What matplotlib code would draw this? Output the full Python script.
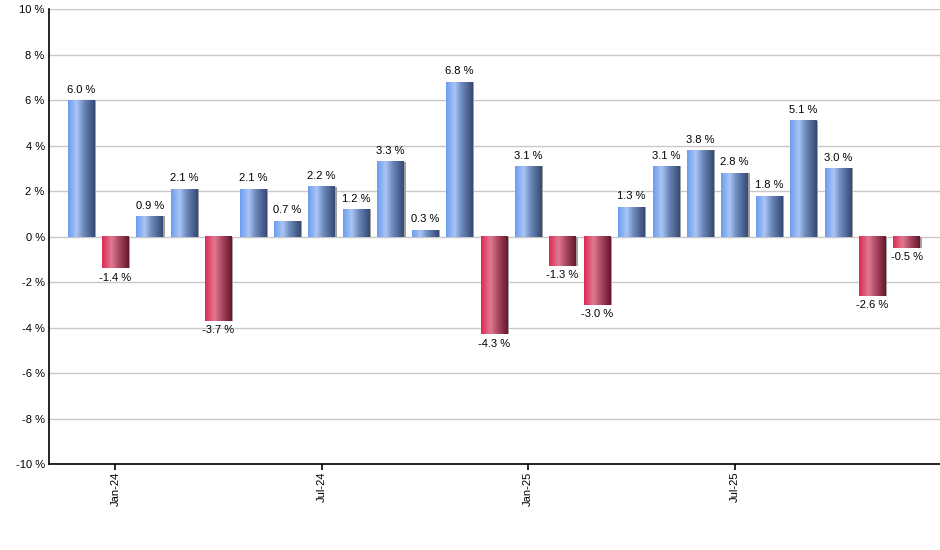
import matplotlib
matplotlib.use("Agg")
import matplotlib.pyplot as plt
import numpy as np
from matplotlib.colors import LinearSegmentedColormap

plt.rcParams['font.family'] = ['Liberation Sans', 'DejaVu Sans']

# monthly returns, Dec-23 .. Dec-25
months = ['Dec-23', 'Jan-24', 'Feb-24', 'Mar-24', 'Apr-24', 'May-24', 'Jun-24',
          'Jul-24', 'Aug-24', 'Sep-24', 'Oct-24', 'Nov-24', 'Dec-24',
          'Jan-25', 'Feb-25', 'Mar-25', 'Apr-25', 'May-25', 'Jun-25',
          'Jul-25', 'Aug-25', 'Sep-25', 'Oct-25', 'Nov-25', 'Dec-25']
returns = [6.0, -1.4, 0.9, 2.1, -3.7, 2.1, 0.7, 2.2, 1.2, 3.3, 0.3, 6.8, -4.3,
           3.1, -1.3, -3.0, 1.3, 3.1, 3.8, 2.8, 1.8, 5.1, 3.0, -2.6, -0.5]
tick_labels = ['Jan-24', 'Jul-24', 'Jan-25', 'Jul-25']

blue_cm = LinearSegmentedColormap.from_list(
    'b', [(0, '#6d9cee'), (0.32, '#a9c6f6'), (0.6, '#6a86b8'), (1, '#364a74')])
red_cm = LinearSegmentedColormap.from_list(
    'r', [(0, '#de2a55'), (0.35, '#e07a91'), (0.65, '#a84560'), (1, '#65182d')])
grad = np.linspace(0, 1, 64).reshape(1, -1)

fig = plt.figure(figsize=(9.4, 5.5), dpi=100)
ax = fig.add_axes([0.052, 0.156, 0.948, 0.8276])

x = np.arange(len(months))
w = 0.77
for xi, v in zip(x, returns):
    cm = blue_cm if v >= 0 else red_cm
    # thin shadow on the right
    ax.add_patch(plt.Rectangle((xi - w / 2 + 0.05, 0), w, v, color='#a0a0a0', zorder=2, lw=0))
    ax.imshow(grad, cmap=cm, aspect='auto', extent=[xi - w / 2, xi + w / 2, 0, v],
              zorder=3, interpolation='bilinear')
    if v >= 0:
        ax.annotate(f'{v:.1f} %', (xi, v), xytext=(0, 4), textcoords='offset points',
                    ha='center', va='bottom', fontsize=8)
    else:
        ax.annotate(f'{v:.1f} %', (xi, v), xytext=(0, -3), textcoords='offset points',
                    ha='center', va='top', fontsize=8)

ax.set_xlim(-0.93, 24.97)
ax.set_ylim(-10, 10)
ax.set_yticks(np.arange(-10, 11, 2))
ax.set_yticklabels([f'{t} %' for t in range(-10, 11, 2)], fontsize=8)
ax.set_xticks([months.index(m) for m in tick_labels])
ax.set_xticklabels(tick_labels, rotation=90, fontsize=8)
ax.yaxis.grid(True, color='#c8c8c8', lw=1)
ax.set_axisbelow(True)
for s in ['top', 'right']:
    ax.spines[s].set_visible(False)
ax.spines['left'].set_linewidth(1.2)
ax.spines['bottom'].set_linewidth(1.2)
ax.tick_params(axis='y', length=0, pad=3)
ax.tick_params(axis='x', length=4, width=1.2, pad=1.5)

fig.savefig('out.png', dpi=100)
